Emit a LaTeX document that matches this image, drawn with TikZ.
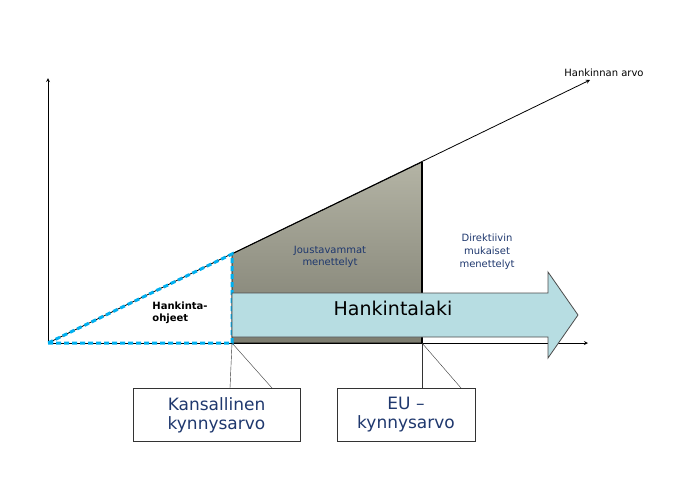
\documentclass[tikz,border=0pt]{standalone}
\usepackage{fontspec}
\setmainfont{DejaVu Sans}
\definecolor{dblue}{RGB}{31,56,110}
\definecolor{cyanb}{RGB}{0,176,240}
\definecolor{lblue}{RGB}{183,221,226}
\definecolor{gtop}{RGB}{180,180,165}
\definecolor{gbot}{RGB}{125,125,112}
\begin{document}
\begin{tikzpicture}[x=1pt,y=-1pt,
  ax/.style={line width=0.8pt,-stealth},
  callout/.style={draw=black!80,line width=0.6pt,fill=white,minimum width=167pt,minimum height=53pt,align=center,text=dblue,font=\fontsize{17}{19}\selectfont},
  small/.style={text=dblue,align=center,font=\fontsize{10}{12}\selectfont}]
\useasboundingbox (0,0) rectangle (698,477);
\coordinate (O) at (48,343);
\coordinate (A) at (232,343);
\coordinate (Atop) at (232,254);
\coordinate (B) at (422,343);
\coordinate (Btop) at (422,162);
\shade[top color=gtop, bottom color=gbot, draw=black, line width=0.8pt] (A) -- (Atop) -- (Btop) -- (B) -- cycle;
\draw[line width=1.5pt] (Btop) -- (B);
\draw[ax] (O) -- (48,78);
\draw[ax] (O) -- (588,343);
\draw[ax] (O) -- (590,80);
\draw[cyanb,line width=3pt,dash pattern=on 5pt off 3pt] (O) -- (A) -- (Atop) -- cycle;
\filldraw[fill=lblue,draw=black!70,line width=0.8pt] (232,293) -- (548,293) -- (548,272) -- (578,315) -- (548,358) -- (548,337) -- (232,337) -- cycle;
\node[font=\fontsize{19}{21}\selectfont] (hl) at (393,308) {Hankintalaki};
\node[font=\bfseries\fontsize{10}{12}\selectfont,align=left] (ho) at (180,313) {Hankinta-\\ohjeet};
\node[small] (jm) at (330,257) {Joustavammat\\menettelyt};
\node[small,font=\fontsize{10}{13}\selectfont] (dm) at (487,252) {Direktiivin\\mukaiset\\menettelyt};
\node[font=\fontsize{10}{12}\selectfont] (ha) at (604,73) {Hankinnan arvo};
\node[callout] (k) at (216.5,415) {Kansallinen\\kynnysarvo};
\node[callout,minimum width=138pt] (eu) at (406,415) {EU –\\kynnysarvo};
\draw[black!80] (A) -- (k.north -| 230,0);
\draw[black!80] (A) -- (272,388);
\draw[black!80] (B) -- (eu.north -| 422,0);
\draw[black!80] (B) -- (461,388);
\end{tikzpicture}
\end{document}
